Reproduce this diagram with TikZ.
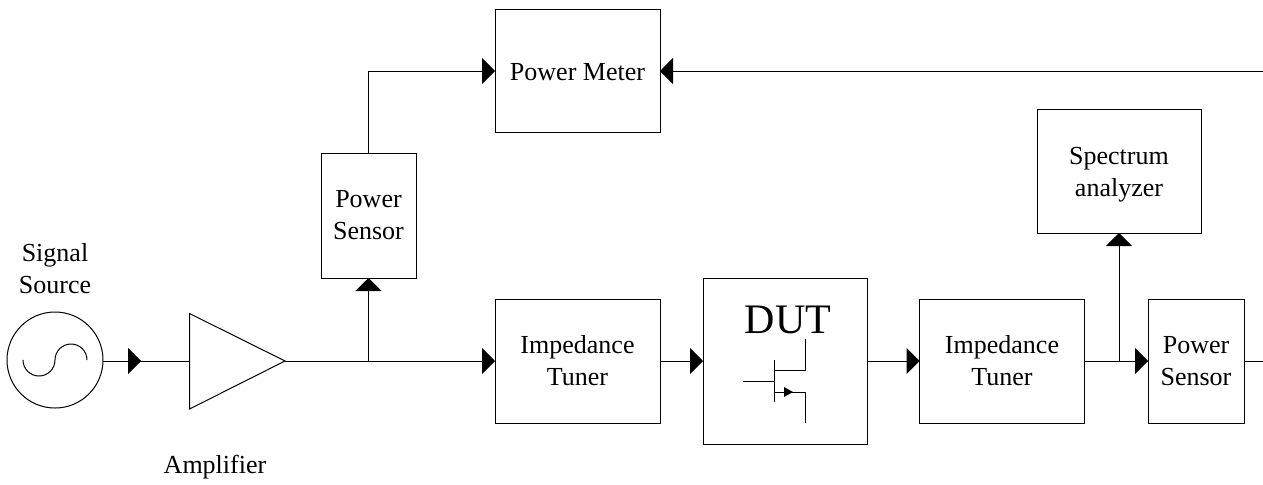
\documentclass[tikz,border=0pt]{standalone}
\usepackage{fontspec}
\setmainfont{Liberation Serif}
\usetikzlibrary{arrows.meta,decorations.markings}
\tikzset{
  blockbox/.style={draw=black,fill=white,line width=0.5pt,inner sep=0pt,outer sep=0pt,align=center,font=\fontsize{13}{16}\selectfont},
  plainlabel/.style={inner sep=0pt,outer sep=0pt,align=center,font=\fontsize{13}{16}\selectfont},
  wire/.style={draw=black,line width=0.5pt},
  feed/.style={wire,-{Triangle[length=6.5pt,width=13pt]}},
  midfeed/.style={wire,postaction={decorate,decoration={markings,mark=at position #1 with {\arrow{Triangle[length=6.5pt,width=13pt]}}}}}
}
\begin{document}
\begin{tikzpicture}[x=.5pt,y=-.5pt]
\path[use as bounding box] (0,0) rectangle (1263,484);
\path[fill=white,draw=none] (0,0) rectangle (1263,484);
% source and amplifier
\node[draw=black,line width=0.5pt,circle,minimum size=48pt,inner sep=0pt,outer sep=0pt] (source) at (55,360) {};
\draw[wire] (23,360) arc[start angle=180,end angle=0,radius=16] arc[start angle=180,end angle=360,radius=16];
\node[plainlabel,anchor=base] (sourcelabel) at (55,293) {Signal\\Source};
\coordinate (ampin) at (189.5,361);
\coordinate (ampout) at (285,361);
\draw[wire] (189.5,313.5) -- (ampout) -- (189.5,409) -- cycle;
\node[plainlabel,anchor=base] (amplabel) at (215,473) {Amplifier};
% blocks
\node[blockbox,minimum width=82.5pt,minimum height=61.5pt] (meter) at (577.5,71) {};
\node[plainlabel] (meterlabel) at (577.5,72) {Power Meter};
\node[blockbox,minimum width=47.5pt,minimum height=62.5pt] (sensorA) at (368.5,215.5) {Power\\Sensor};
\node[blockbox,minimum width=82.5pt,minimum height=62pt] (tunerA) at (577.5,361) {Impedance\\Tuner};
\node[blockbox,minimum width=82pt,minimum height=83pt] (dut) at (785,361) {};
\node[blockbox,minimum width=82.5pt,minimum height=62pt] (tunerB) at (1002,361) {Impedance\\Tuner};
\node[blockbox,minimum width=48pt,minimum height=62pt] (sensorB) at (1196,361) {Power\\Sensor};
\node[blockbox,minimum width=82pt,minimum height=62pt] (spectrum) at (1119,171) {};
\node[plainlabel] (spectrumlabel) at (1119,175) {Spectrum\\analyzer};
% transistor inside the DUT
\node[inner sep=0pt,outer sep=0pt,anchor=base,font=\fontsize{21}{25}\selectfont] (dutlabel) at (788,333) {DUT};
\draw[wire] (743,381) -- (774,381);
\draw[wire] (774,360) -- (774,402);
\draw[wire] (774,370) -- (805,370) -- (805,339);
\draw[wire] (774,392) -- (805,392) -- (805,423);
\path[fill=black] (793,392) -- (784,387) -- (784,397) -- cycle;
% connectors
\coordinate (splitA) at (368.5,361);
\coordinate (splitB) at (1119,361);
\coordinate (meterend) at (1263,71);
\coordinate (sensorend) at (1263,361);
\draw[midfeed=0.44] (source.east |- ampin) -- (ampin);
\draw[feed] (ampout) -- (tunerA.west);
\draw[feed] (splitA) -- (sensorA.south);
\draw[feed] (sensorA.north) |- (meter.west);
\draw[feed] (meterend) -- (meter.east);
\draw[feed] (tunerA.east) -- (dut.west);
\draw[feed] (dut.east) -- (tunerB.west);
\draw[feed] (tunerB.east) -- (sensorB.west);
\draw[feed] (splitB) -- (spectrum.south);
\draw[wire] (sensorB.east) -- (sensorend);
\end{tikzpicture}
\end{document}
